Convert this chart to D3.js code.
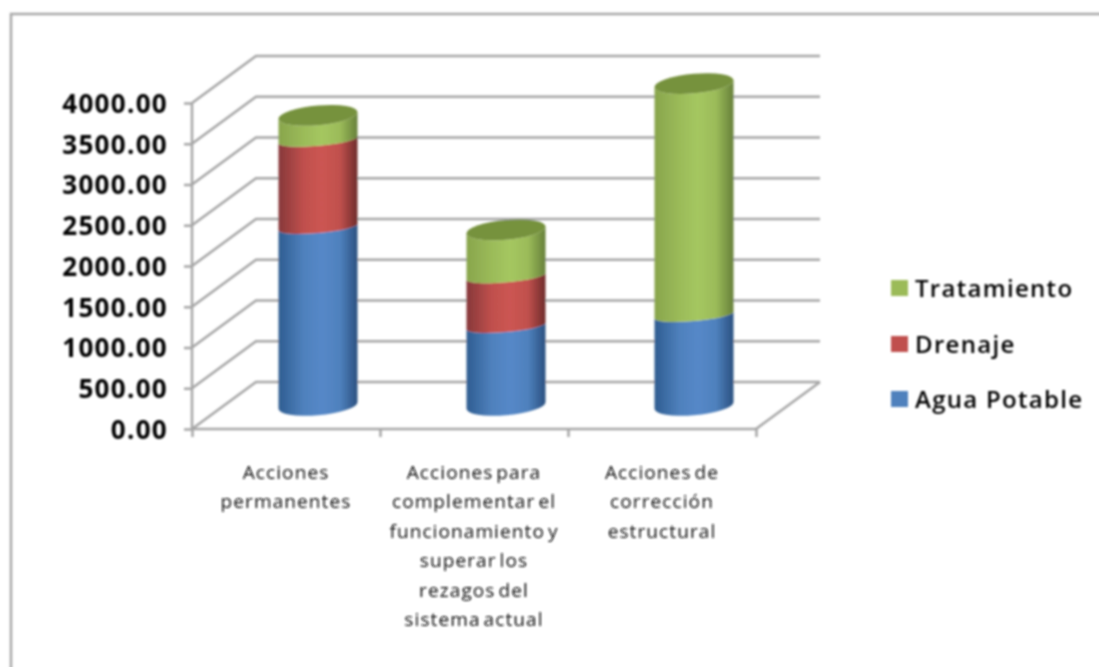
<!DOCTYPE html>
<html><head><meta charset="utf-8">
<script src="https://cdn.jsdelivr.net/npm/d3@7"></script>
<style>html,body{margin:0;padding:0;background:#fff}svg{display:block}</style>
</head><body><div id="c"></div>
<script>
const categories = [
  ["Acciones","permanentes"],
  ["Acciones para","complementar el","funcionamiento y","superar los","rezagos del","sistema actual"],
  ["Acciones de","corrección","estructural"]
];
const seriesNames = ["Agua Potable","Drenaje","Tratamiento"];
const aguaPotable = [2190, 975, 1110];
const drenaje = [1070, 610, 0];
const tratamiento = [300, 570, 2840];
const yTicks = [0,500,1000,1500,2000,2500,3000,3500,4000];
const colors = {
  "Agua Potable":{base:"#4f81bd",left:"#2f5d91",right:"#2a5080",mid:"#5588c8"},
  "Drenaje":{base:"#c0504d",left:"#86383a",right:"#6e2c2b",mid:"#cc5552"},
  "Tratamiento":{base:"#9bbb59",left:"#88a54c",right:"#66803a",mid:"#a5c760"}
};
const W=1099,H=667;
const svg=d3.select("#c").append("svg").attr("width",W).attr("height",H);
const defs=svg.append("defs");
defs.append("filter").attr("id","soft").attr("filterUnits","userSpaceOnUse").attr("x",0).attr("y",0).attr("width",W).attr("height",H)
  .append("feGaussianBlur").attr("stdDeviation",0.8);
seriesNames.forEach((s,i)=>{
  const g=defs.append("linearGradient").attr("id","g"+i).attr("x1","0").attr("x2","1").attr("y1","0").attr("y2","0");
  [[0,colors[s].left],[0.32,colors[s].base],[0.55,colors[s].mid],[0.78,colors[s].base],[1,colors[s].right]]
    .forEach(([o,c])=>g.append("stop").attr("offset",o).attr("stop-color",c));
});
const root=svg.append("g").attr("filter","url(#soft)");
root.append("path").attr("d",`M11,${H+5}V14H${W+5}`).attr("fill","none").attr("stroke","#a8a8a8").attr("stroke-width",2.5);

const x=d3.scaleBand().domain(d3.range(categories.length)).range([192,756]);
const y=d3.scaleLinear().domain([0,4000]).range([429,103]);
const depthX=64, depthY=-47;
const grid="#a6a6a6";
const g=root.append("g").attr("fill","none").attr("stroke",grid).attr("stroke-width",2.5);
yTicks.forEach(t=>{
  const yy=y(t);
  g.append("path").attr("d",`M192,${yy}L${192+depthX},${yy+depthY}H${756+depthX}`);
});
g.append("path").attr("d",`M756,429L${756+depthX},${429+depthY}`);
const yAxis=d3.axisLeft(y).tickValues(yTicks).tickFormat(d3.format(".2f")).tickSize(8).tickPadding(16);
const ya=root.append("g").attr("transform","translate(192,0)").call(yAxis);
ya.selectAll("path,line").attr("stroke",grid).attr("stroke-width",2.5);
ya.select(".domain").attr("d","M0,103V429");
ya.selectAll("text").attr("font-family","'Open Sans'").attr("font-weight",700).attr("font-size",26)
  .attr("letter-spacing",1.3).attr("fill","#000").attr("dy","0.36em");
const xa=d3.axisBottom(d3.scaleLinear().domain([0,3]).range([192,756])).tickValues([0,1,2,3]).tickFormat("").tickSize(8);
const xag=root.append("g").attr("transform","translate(0,429)").call(xa);
xag.selectAll("path,line").attr("stroke",grid).attr("stroke-width",2.5);
xag.select(".domain").attr("d","M192,0H756");

// cylinders
const rx=39.5, ryEnd=9.8, ryJoin=6, shear=0.085;
const cyl=root.append("g");
categories.forEach((c,ci)=>{
  const cx=x(ci)+x.bandwidth()/2+depthX/2;
  const G=cyl.append("g").attr("transform",`matrix(1,${-shear},0,1,${cx},${depthY/2})`);
  const stack=[aguaPotable,drenaje,tratamiento];
  const total=d3.sum(stack,a=>a[ci]);
  let acc=0;
  stack.forEach((arr,si)=>{
    const v=arr[ci]; if(!v) return;
    const y0=y(acc), y1=y(acc+v);
    const r0=acc===0?ryEnd:ryJoin;
    const r1=acc+v===total?ryEnd:ryJoin;
    G.append("path").attr("fill",`url(#g${si})`)
     .attr("d",`M${-rx},${y1}L${-rx},${y0}A${rx},${r0} 0 0 0 ${rx},${y0}L${rx},${y1}A${rx},${r1} 0 0 1 ${-rx},${y1}Z`);
    acc+=v;
  });
  G.append("ellipse").attr("cx",0).attr("cy",y(acc)).attr("rx",rx).attr("ry",ryEnd).attr("fill","#76923c");
});

const lab=root.append("g").attr("font-family","'Open Sans'").attr("font-size",19).attr("fill","#111")
  .attr("text-anchor","middle").attr("letter-spacing",1.1).attr("word-spacing",-3);
categories.forEach((lines,i)=>{
  lines.forEach((l,j)=>{
    lab.append("text").attr("x",x(i)+x.bandwidth()/2).attr("y",479+j*29.4).text(l);
  });
});

const legendY={"Tratamiento":288,"Drenaje":344,"Agua Potable":399};
const leg=root.append("g");
[...seriesNames].reverse().forEach(s=>{
  leg.append("rect").attr("x",891).attr("y",legendY[s]-8).attr("width",17).attr("height",16).attr("fill",colors[s].base);
  leg.append("text").attr("x",915).attr("y",legendY[s]+8.5).attr("font-family","'Open Sans'").attr("font-weight",600)
    .attr("font-size",24).attr("letter-spacing",1.3).attr("fill","#000").text(s);
});
</script></body></html>
